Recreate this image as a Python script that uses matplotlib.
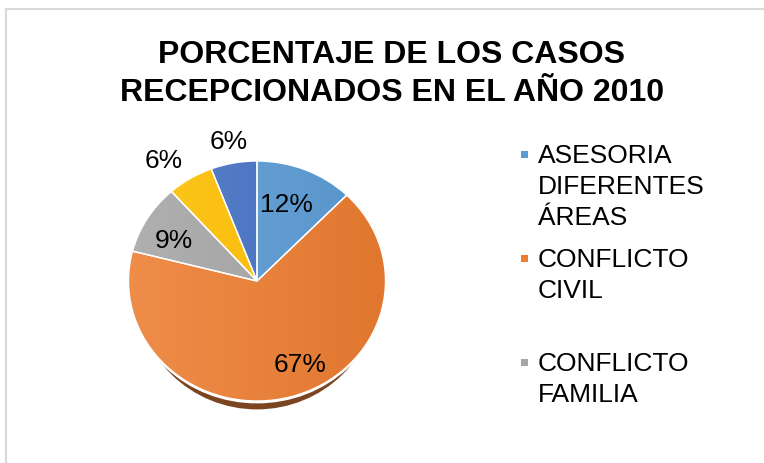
import matplotlib
matplotlib.use('Agg')
import matplotlib.pyplot as plt
import numpy as np
from matplotlib.patches import Ellipse, Rectangle
from matplotlib.lines import Line2D
from matplotlib.colors import to_rgb

# ---- data ----
title_lines = ['PORCENTAJE DE LOS CASOS', 'RECEPCIONADOS EN EL AÑO 2010']
categories = ['ASESORIA DIFERENTES ÁREAS', 'CONFLICTO CIVIL', 'CONFLICTO FAMILIA',
              'CATEGORÍA 4', 'CATEGORÍA 5']
legend_labels = ['ASESORIA\nDIFERENTES\nÁREAS', 'CONFLICTO\nCIVIL', 'CONFLICTO\nFAMILIA']
values = [12.3, 66.7, 9.4, 5.8, 5.8]
colors = ['#5B9BD5', '#ED7D31', '#A5A5A5', '#FFC000', '#4472C4']

plt.rcParams['font.family'] = ['Liberation Sans', 'DejaVu Sans']

W, H = 764, 464
fig = plt.figure(figsize=(W / 100, H / 100), dpi=100)

# chart border (left and top visible)
fig.add_artist(Line2D([5.5 / W, 5.5 / W], [0, 1 - 9.5 / H], transform=fig.transFigure,
                      color='#d9d9d9', lw=1.5))
fig.add_artist(Line2D([5.5 / W, 1], [1 - 9.5 / H, 1 - 9.5 / H], transform=fig.transFigure,
                      color='#d9d9d9', lw=1.5))

# title
for i, line in enumerate(title_lines):
    fig.text(392 / W, 1 - (63 + 38 * i) / H, line, ha='center', va='baseline',
             fontsize=23, fontweight='bold', color='black')

# pie
cx, cy, rx, ry = 257, 282, 128.5, 120
ax = fig.add_axes([(cx - rx) / W, (H - cy - ry) / H, 2 * rx / W, 2 * ry / H])
wedges, texts, autotexts = ax.pie(
    values, colors=colors, startangle=90, counterclock=False,
    autopct=lambda p: f'{p:.0f}%',
    wedgeprops=dict(edgecolor='white', linewidth=1.0),
    textprops=dict(fontsize=19, color='black'))

# shadow
ax.add_patch(Ellipse((0, -0.08), 1.88, 1.98, facecolor='#7a4520', edgecolor='none',
                     zorder=0, clip_on=False))
ax.add_patch(Ellipse((0, -0.02), 2.0, 2.0, facecolor='white', edgecolor='none',
                     zorder=0.5, clip_on=False))

# gradient fill for each wedge
t = np.linspace(0, 1, 256)
for w, c in zip(wedges, colors):
    base = np.array(to_rgb(c))
    light = base + (1 - base) * 0.12
    dark = base * 0.95
    grad = light[None, :] * (1 - t[:, None]) + dark[None, :] * t[:, None]
    img = np.tile(grad[None, :, :], (4, 1, 1))
    im = ax.imshow(img, extent=(-1, 1, -1, 1), aspect='auto', interpolation='bilinear', zorder=1)
    im.set_clip_path(w)
    w.set_facecolor('none')
    w.set_zorder(2)
    w.set_clip_on(False)

ax.set_aspect('auto')
ax.set_xlim(-1, 1)
ax.set_ylim(-1, 1)
ax.axis('off')

label_pos = [(0.232, 0.642), (0.335, -0.692), (-0.646, 0.342), (-0.724, 1.008), (-0.222, 1.167)]
for txt, pos in zip(autotexts, label_pos):
    txt.set_position(pos)
    txt.set_ha('center')
    txt.set_va('center')
    txt.set_zorder(5)

# legend (first three entries visible)
entry_baselines = [163, 267, 371]
for lab, col, yb in zip(legend_labels, colors, entry_baselines):
    fig.add_artist(Rectangle(((524 - 3.5) / W, 1 - (yb - 8 + 3.5) / H), 7 / W, 7 / H,
                             transform=fig.transFigure, facecolor=col, edgecolor='none'))
    for j, ln in enumerate(lab.split('\n')):
        fig.text(538 / W, 1 - (yb + 31 * j) / H, ln, ha='left', va='baseline',
                 fontsize=19, color='black')

fig.savefig('out.png', dpi=100)
